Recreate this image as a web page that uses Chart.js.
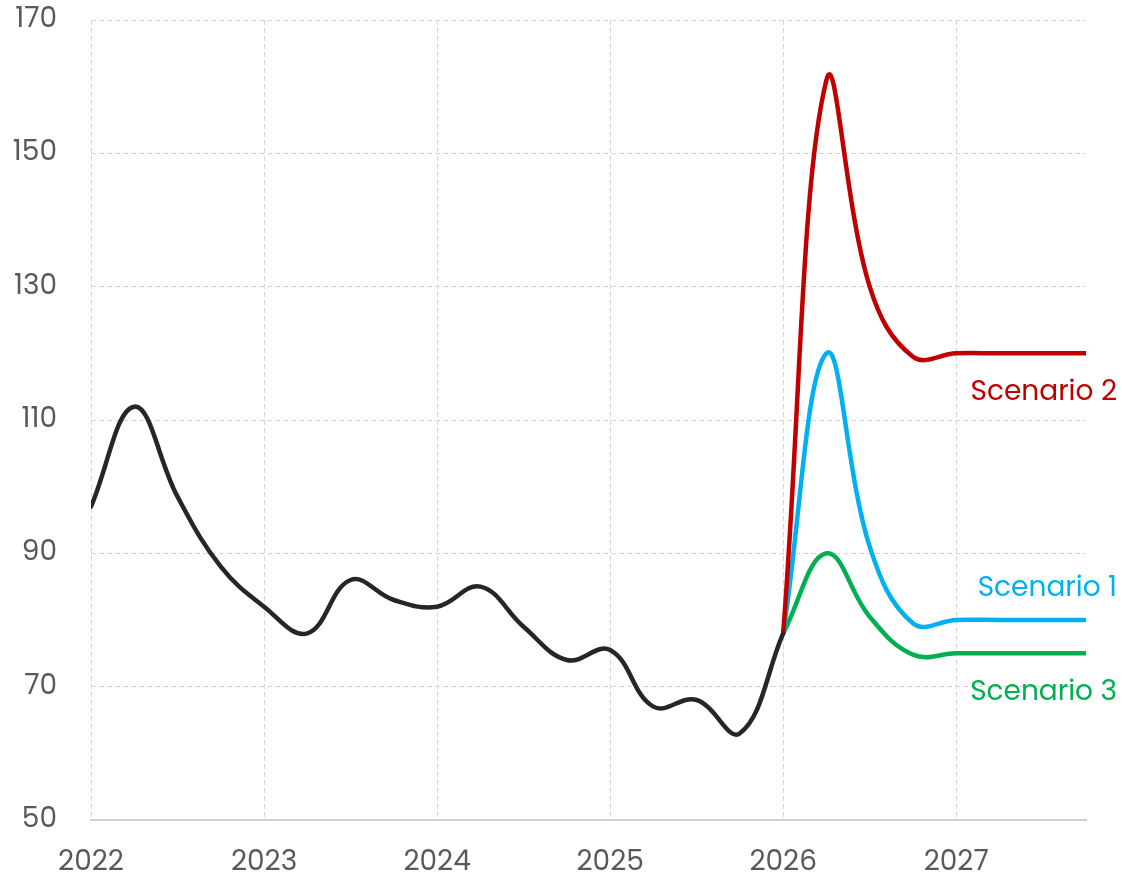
<!DOCTYPE html>
<html>
<head>
<meta charset="utf-8">
<title>Scenarios</title>
<script src="https://cdn.jsdelivr.net/npm/chart.js@4"></script>
<style>
  html, body { margin: 0; padding: 0; background: #fff; }
  #wrap { width: 1122px; height: 880px; position: relative; }
</style>
</head>
<body>
<div id="wrap"><canvas id="chart"></canvas></div>
<script>
// history (quarterly)
const histYears = [2022, 2022.25, 2022.5, 2022.75, 2023, 2023.25, 2023.5, 2023.75,
  2024, 2024.25, 2024.5, 2024.75, 2025, 2025.25, 2025.5, 2025.75, 2026];
const histValues = [97, 112, 98.5, 88, 82, 78, 86, 83, 82, 85, 79, 74, 75.5, 67, 68, 63, 78];

// scenarios from 2026 on
const scenYears = [2026, 2026.25, 2026.5, 2026.75, 2027, 2027.25, 2027.5, 2027.75];
const scenario1 = [78, 120, 91, 79.5, 80, 80, 80, 80];
const scenario2 = [78, 161, 130, 119.5, 120, 120, 120, 120];
const scenario3 = [78, 90, 80.5, 74.8, 75, 75, 75, 75];

const yTicks = [50, 70, 90, 110, 130, 150, 170];

const FONT = "'Poppins', 'Open Sans', sans-serif";

function toPoints(xs, ys) {
  return xs.map((x, i) => ({ x: x, y: ys[i] }));
}

// 右侧情景标签
const endLabels = {
  id: 'endLabels',
  afterDatasetsDraw(chart) {
    const ctx = chart.ctx;
    const yScale = chart.scales.y;
    ctx.save();
    ctx.font = '28px ' + FONT;
    ctx.textAlign = 'right';
    ctx.textBaseline = 'middle';
    chart.data.datasets.forEach(ds => {
      if (!ds.endLabel) return;
      const last = ds.data[ds.data.length - 1];
      ctx.fillStyle = ds.borderColor;
      ctx.fillText(ds.endLabel, chart.width - 5, yScale.getPixelForValue(last.y) + ds.labelShift);
    });
    ctx.restore();
  }
};

new Chart(document.getElementById('chart'), {
  type: 'line',
  data: {
    datasets: [
      {
        label: 'History',
        data: toPoints(histYears, histValues),
        borderColor: '#262626',
        borderWidth: 4.5
      },
      {
        label: 'Scenario 2',
        endLabel: 'Scenario 2',
        labelShift: 40,
        data: toPoints(scenYears, scenario2),
        borderColor: '#c00000',
        borderWidth: 4.5
      },
      {
        label: 'Scenario 1',
        endLabel: 'Scenario 1',
        labelShift: -31,
        data: toPoints(scenYears, scenario1),
        borderColor: '#00b0f0',
        borderWidth: 4.5
      },
      {
        label: 'Scenario 3',
        endLabel: 'Scenario 3',
        labelShift: 40,
        data: toPoints(scenYears, scenario3),
        borderColor: '#00b050',
        borderWidth: 4.5
      }
    ]
  },
  options: {
    responsive: true,
    maintainAspectRatio: false,
    animation: false,
    layout: {
      padding: { top: 20, right: 36, left: 0, bottom: 0 }
    },
    elements: {
      point: { radius: 0 },
      line: { tension: 0.4, borderCapStyle: 'round', borderJoinStyle: 'round' }
    },
    plugins: {
      legend: { display: false },
      tooltip: { enabled: false }
    },
    scales: {
      x: {
        type: 'linear',
        min: 2022,
        max: 2027.75,
        afterFit(scale) {
          scale.height = 60;
          scale.paddingLeft = 0;
          scale.paddingRight = 0;
        },
        ticks: {
          stepSize: 1,
          includeBounds: false,
          maxRotation: 0,
          padding: 26,
          color: '#595959',
          font: { family: FONT, size: 28 },
          callback: v => String(v)
        },
        grid: {
          color: '#d6d6d6',
          lineWidth: 1,
          drawTicks: false
        },
        border: { display: true, color: '#d0d0d0', width: 2, dash: [5, 3] }
      },
      y: {
        min: 50,
        max: 170,
        afterFit(scale) {
          scale.width = 91;
          scale.paddingTop = 0;
          scale.paddingBottom = 0;
        },
        afterBuildTicks(scale) {
          scale.ticks = yTicks.map(v => ({ value: v }));
        },
        ticks: {
          padding: 34,
          color: '#595959',
          font: { family: FONT, size: 28 }
        },
        grid: {
          color: '#d6d6d6',
          lineWidth: 1,
          drawTicks: false
        },
        border: { display: false, dash: [5, 3] }
      }
    }
  },
  plugins: [endLabels]
});
</script>
</body>
</html>
